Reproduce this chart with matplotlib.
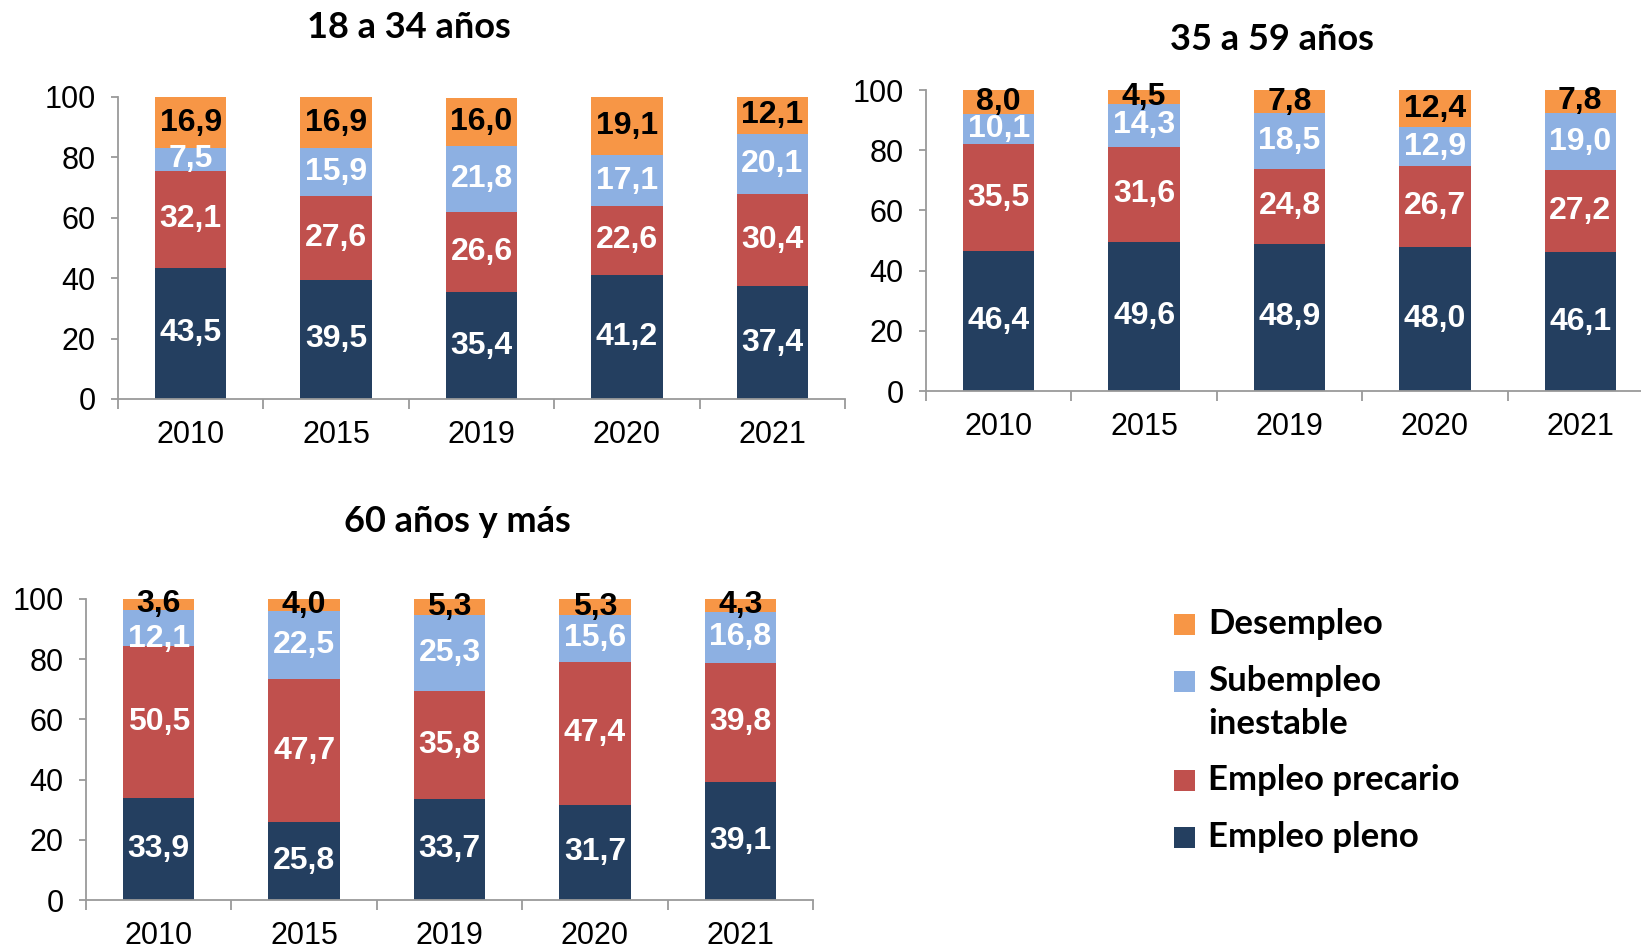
import matplotlib
matplotlib.use("Agg")
import matplotlib.pyplot as plt
from matplotlib.patches import Rectangle
import numpy as np

W, H = 1641, 949
DPI = 100

years = ["2010", "2015", "2019", "2020", "2021"]
series_names = ["Empleo pleno", "Empleo precario", "Subempleo\ninestable", "Desempleo"]
colors = ["#243F60", "#C0504D", "#8DB0E2", "#F79646"]
label_colors = ["white", "white", "white", "black"]

# 18 a 34 años
p1_pleno = [43.5, 39.5, 35.4, 41.2, 37.4]
p1_precario = [32.1, 27.6, 26.6, 22.6, 30.4]
p1_subempleo = [7.5, 15.9, 21.8, 17.1, 20.1]
p1_desempleo = [16.9, 16.9, 16.0, 19.1, 12.1]

# 35 a 59 años
p2_pleno = [46.4, 49.6, 48.9, 48.0, 46.1]
p2_precario = [35.5, 31.6, 24.8, 26.7, 27.2]
p2_subempleo = [10.1, 14.3, 18.5, 12.9, 19.0]
p2_desempleo = [8.0, 4.5, 7.8, 12.4, 7.8]

# 60 años y más
p3_pleno = [33.9, 25.8, 33.7, 31.7, 39.1]
p3_precario = [50.5, 47.7, 35.8, 47.4, 39.8]
p3_subempleo = [12.1, 22.5, 25.3, 15.6, 16.8]
p3_desempleo = [3.6, 4.0, 5.3, 5.3, 4.3]

titles = ["18 a 34 años", "35 a 59 años", "60 años y más"]
yticks = [0, 20, 40, 60, 80, 100]

SANS = ["Liberation Sans", "DejaVu Sans"]
TFONT = ["Lato", "DejaVu Sans"]

fig = plt.figure(figsize=(W / DPI, H / DPI), dpi=DPI)

def px_axes(left, top, right, bottom):
    return fig.add_axes([left / W, 1 - bottom / H, (right - left) / W, (bottom - top) / H])

def draw_panel(ax, data):
    x = np.arange(len(years))
    data = [np.array(v, dtype=float) for v in data]
    bottoms = [np.zeros(len(years))]
    for vals in data[:-1]:
        bottoms.append(bottoms[-1] + vals)
    for vals, b, col in zip(data, bottoms, colors):
        ax.bar(x, vals, width=0.49, bottom=b, color=col, edgecolor="none", zorder=2)
    # labels, placed from the top down; nudge a label down if it crowds the one above
    for xi in x:
        prev = None
        for k in range(len(data) - 1, -1, -1):
            v = data[k][xi]
            c = bottoms[k][xi] + v / 2
            if prev is not None and prev - c < 9:
                c = prev - 11.5
            prev = c
            ax.text(xi, c, f"{v:.1f}".replace(".", ","), ha="center", va="center",
                    color=label_colors[k], fontsize=23, fontweight="bold", family=SANS, zorder=3)
    ax.set_xlim(-0.5, len(years) - 0.5)
    ax.set_ylim(0, 100)
    ax.set_yticks(yticks)
    ax.set_yticklabels([str(t) for t in yticks], family=SANS, fontsize=22)
    ax.set_xticks(x)
    ax.set_xticklabels(years, family=SANS, fontsize=22)
    ax.set_xticks(np.arange(len(years) + 1) - 0.5, minor=True)
    ax.tick_params(axis="x", which="major", length=0, pad=15)
    ax.tick_params(axis="x", which="minor", length=7, width=1.3, color="#9A9A9A", direction="out")
    ax.tick_params(axis="y", which="major", length=5, width=1.3, color="#9A9A9A", pad=11, direction="out")
    for s in ["top", "right"]:
        ax.spines[s].set_visible(False)
    for s in ["left", "bottom"]:
        ax.spines[s].set_color("#9A9A9A")
        ax.spines[s].set_linewidth(1.3)
    ax.patch.set_alpha(0)

ax1 = px_axes(118, 97, 845, 399)
draw_panel(ax1, [p1_pleno, p1_precario, p1_subempleo, p1_desempleo])
ax2 = px_axes(926, 90, 1653, 391)
draw_panel(ax2, [p2_pleno, p2_precario, p2_subempleo, p2_desempleo])
ax3 = px_axes(86, 599, 813, 900)
draw_panel(ax3, [p3_pleno, p3_precario, p3_subempleo, p3_desempleo])

title_pos = [(409, 27), (1272, 39), (457, 521)]
for t, (tx, ty) in zip(titles, title_pos):
    fig.text(tx / W, 1 - ty / H, t, ha="center", va="center", fontsize=26,
             fontweight="bold", family=TFONT)

# Legend (top to bottom: Desempleo, Subempleo, precario, pleno)
leg_items = [(3, 624), (2, 681), (1, 780), (0, 837)]
sq = 21
for idx, yc in leg_items:
    fig.patches.append(Rectangle((1174 / W, 1 - (yc + sq / 2) / H), sq / W, sq / H,
                                 transform=fig.transFigure, facecolor=colors[idx],
                                 edgecolor="none"))
    lines = series_names[idx].split("\n")
    for k, ln in enumerate(lines):
        fig.text(1208 / W, 1 - (yc + k * 43) / H, ln, ha="left", va="center",
                 fontsize=25, fontweight="bold", family=TFONT)

fig.savefig("out.png", dpi=DPI)
